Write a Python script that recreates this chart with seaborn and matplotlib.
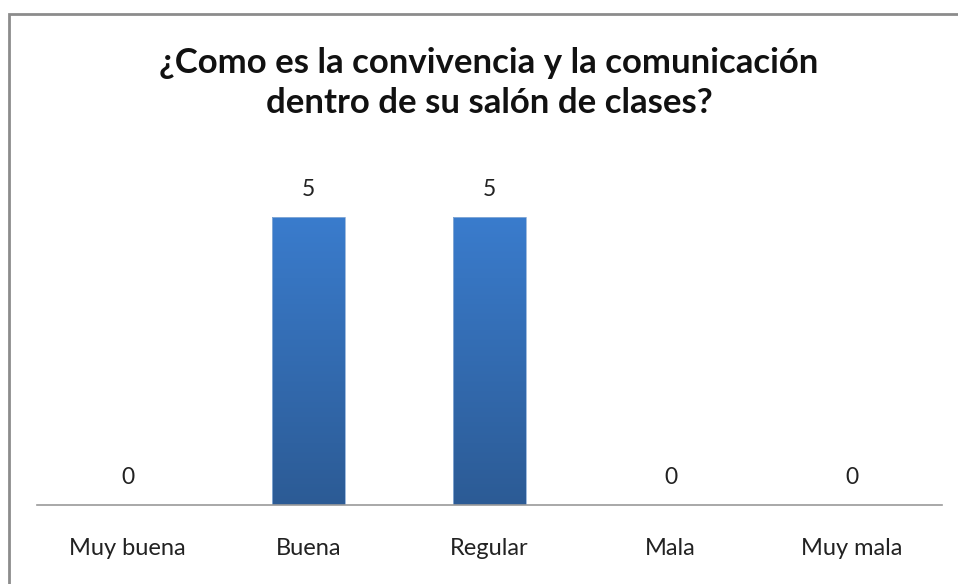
import numpy as np
import pandas as pd
import matplotlib
matplotlib.use("Agg")
import matplotlib.pyplot as plt
import seaborn as sns
from matplotlib.colors import LinearSegmentedColormap
from matplotlib.patches import Rectangle

categories = ["Muy buena", "Buena", "Regular", "Mala", "Muy mala"]
values = [0, 5, 5, 0, 0]
title = "¿Como es la convivencia y la comunicación\ndentro de su salón de clases?"

sns.set_theme(style="white")
plt.rcParams['font.family'] = ['Lato', 'DejaVu Sans']

W, H = 958, 584
fig = plt.figure(figsize=(W / 100, H / 100), dpi=100)
fig.patch.set_facecolor("white")

# outer border (cut off at right/bottom)
fig.add_artist(Rectangle((9 / W, -0.1), 1.2, (H - 14) / H + 0.1, transform=fig.transFigure,
                         fill=False, edgecolor="#8c8c8c", linewidth=2))

left, right, bottom, top = 37, 942, 505, 145
ax = fig.add_axes([left / W, (H - bottom) / H, (right - left) / W, (bottom - top) / H])
df = pd.DataFrame({"cat": categories, "val": values})
sns.barplot(data=df, x="cat", y="val", ax=ax, width=0.40, color="#3a78c3", saturation=1)
ax.set_ylim(0, 5 * (bottom - top) / 288)
ax.set_xlim(-0.5, len(categories) - 0.5)

cmap = LinearSegmentedColormap.from_list("g", ["#2c5b95", "#3a7ccd"])
grad = np.linspace(0, 1, 256).reshape(-1, 1)
for p in ax.patches:
    x0, y0 = p.get_x(), p.get_y()
    w, h = p.get_width(), p.get_height()
    if h <= 0:
        continue
    p.set_facecolor("none")
    p.set_edgecolor("#8fb0d8")
    p.set_linewidth(0.6)
    im = ax.imshow(grad, cmap=cmap, origin="lower", aspect="auto",
                   extent=[x0, x0 + w, y0, y0 + h], zorder=p.get_zorder() - 0.1)
    im.set_clip_path(p)

for i, v in enumerate(values):
    ax.annotate(str(v), (i, v), xytext=(0, 27), textcoords="offset pixels",
                ha="center", va="center", fontsize=16.5, color="#222222")

for s in ["top", "right", "left"]:
    ax.spines[s].set_visible(False)
ax.spines["bottom"].set_color("#9a9a9a")
ax.spines["bottom"].set_linewidth(1.2)
ax.set_yticks([])
ax.set_xlabel("")
ax.set_ylabel("")
ax.tick_params(axis="x", length=0, pad=31, labelsize=17, labelcolor="#222222")
for t in ax.get_xticklabels():
    t.set_va("center")
ax.set_facecolor("none")

fig.text(489 / W, 1 - 83 / H, title, ha="center", va="center", fontsize=25,
         fontweight="bold", color="#111111", linespacing=1.27)

fig.savefig("out.png", dpi=100)
